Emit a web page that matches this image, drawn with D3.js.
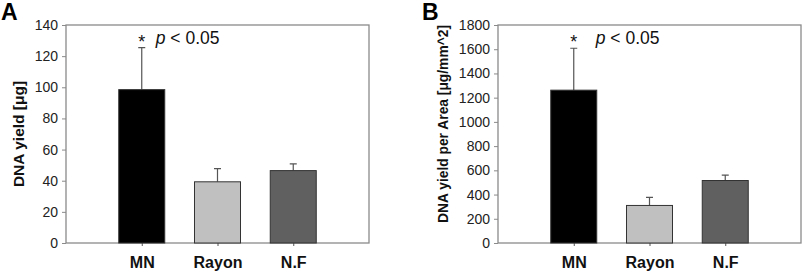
<!DOCTYPE html>
<html lang="en">
<head>
<meta charset="UTF-8">
<title>DNA yield</title>
<script src="https://d3js.org/d3.v7.min.js"></script>
<style>
    body { margin: 0; background: #fff; }
    svg { display: block; font-family: Arial, "Liberation Sans", sans-serif; }
</style>
</head>
<body>
<svg id="chart" width="803" height="273"></svg>
<script>
// ---- data ----
const categories = ["MN", "Rayon", "N.F"];
const yieldMean = [98.5, 39.3, 46.5];
const yieldErr = [125.5, 47.8, 50.8];
const areaMean = [1262, 310, 516];
const areaErr = [1608, 376, 560];
const yieldTicks = [0, 20, 40, 60, 80, 100, 120, 140];
const areaTicks = [0, 200, 400, 600, 800, 1000, 1200, 1400, 1600, 1800];
const barColors = ["#000000", "#c0c0c0", "#606060"];

const svg = d3.select("#chart");

function drawPanel(opt) {
    const top = 25, bottom = 243;
    const g = svg.append("g");

    const x = d3.scalePoint().domain(categories).range([opt.left, opt.left + 303]).padding(1);
    const y = d3.scaleLinear().domain([0, opt.max]).range([bottom, top]);

    // frame
    g.append("rect")
        .attr("x", opt.left).attr("y", top)
        .attr("width", 303).attr("height", bottom - top)
        .attr("fill", "none").attr("stroke", "#8a8a8a").attr("stroke-width", 1.3);

    // y axis
    const ya = g.append("g")
        .attr("transform", `translate(${opt.left},0)`)
        .call(d3.axisLeft(y).tickValues(opt.ticks).tickFormat(d3.format("d")).tickSize(4).tickPadding(4));
    ya.select(".domain").remove();
    ya.selectAll("line").attr("stroke", "#8a8a8a");
    ya.selectAll("text").attr("font-size", 14).attr("fill", "#222").attr("font-family", "Arial");

    // x axis
    const xa = g.append("g")
        .attr("transform", `translate(0,${bottom})`)
        .call(d3.axisBottom(x).tickSize(3).tickPadding(11));
    xa.select(".domain").remove();
    xa.selectAll("line").attr("stroke", "#555");
    xa.selectAll("text").attr("font-size", 16).attr("font-weight", "bold")
        .attr("fill", "#111").attr("font-family", "Arial");

    // error bars (upper only)
    const bw = 46;
    g.selectAll(".err").data(categories).enter().append("path")
        .attr("class", "err")
        .attr("d", (c, i) => {
            const cx = x(c), y0 = y(opt.mean[i]), y1 = y(opt.err[i]);
            return `M${cx},${y0}V${y1}M${cx - 3.5},${y1}H${cx + 3.5}`;
        })
        .attr("fill", "none").attr("stroke", "#555").attr("stroke-width", 1.2);

    // bars
    g.selectAll(".bar").data(categories).enter().append("rect")
        .attr("class", "bar")
        .attr("x", c => x(c) - bw / 2)
        .attr("y", (c, i) => y(opt.mean[i]))
        .attr("width", bw)
        .attr("height", (c, i) => bottom - y(opt.mean[i]))
        .attr("fill", (c, i) => barColors[i])
        .attr("stroke", "#333").attr("stroke-width", 1);

    // y label
    g.append("text")
        .attr("transform", `translate(${opt.labelX},${opt.labelY}) rotate(-90)`)
        .attr("text-anchor", "middle")
        .attr("font-size", opt.labelSize).attr("font-weight", "bold").attr("fill", "#111")
        .text(opt.label);

    // panel letter
    g.append("text")
        .attr("x", opt.letterX).attr("y", 20)
        .attr("font-size", 23).attr("font-weight", "bold").attr("fill", "#000")
        .text(opt.letter);

    // significance note
    const cx = x(categories[0]);
    g.append("text")
        .attr("x", cx).attr("y", 48)
        .attr("text-anchor", "middle")
        .attr("font-size", 18).attr("fill", "#111")
        .text("*");
    const note = g.append("text")
        .attr("x", cx + opt.noteGap).attr("y", 44)
        .attr("font-size", 17.5).attr("fill", "#111")
        .attr("xml:space", "preserve");
    note.append("tspan").attr("font-style", "italic").text("p");
    note.append("tspan").text(" < 0.05");
}

drawPanel({
    left: 66, max: 140, ticks: yieldTicks, mean: yieldMean, err: yieldErr,
    label: "DNA yield [\u03bcg]", labelSize: 15.5, labelX: 24, labelY: 134, letter: "A", letterX: 1, noteGap: 14
});

drawPanel({
    left: 498, max: 1800, ticks: areaTicks, mean: areaMean, err: areaErr,
    label: "DNA yield per Area [\u03bcg/mm^2]", labelSize: 13.8, labelX: 448, labelY: 124, letter: "B", letterX: 422, noteGap: 22
});
</script>
</body>
</html>
